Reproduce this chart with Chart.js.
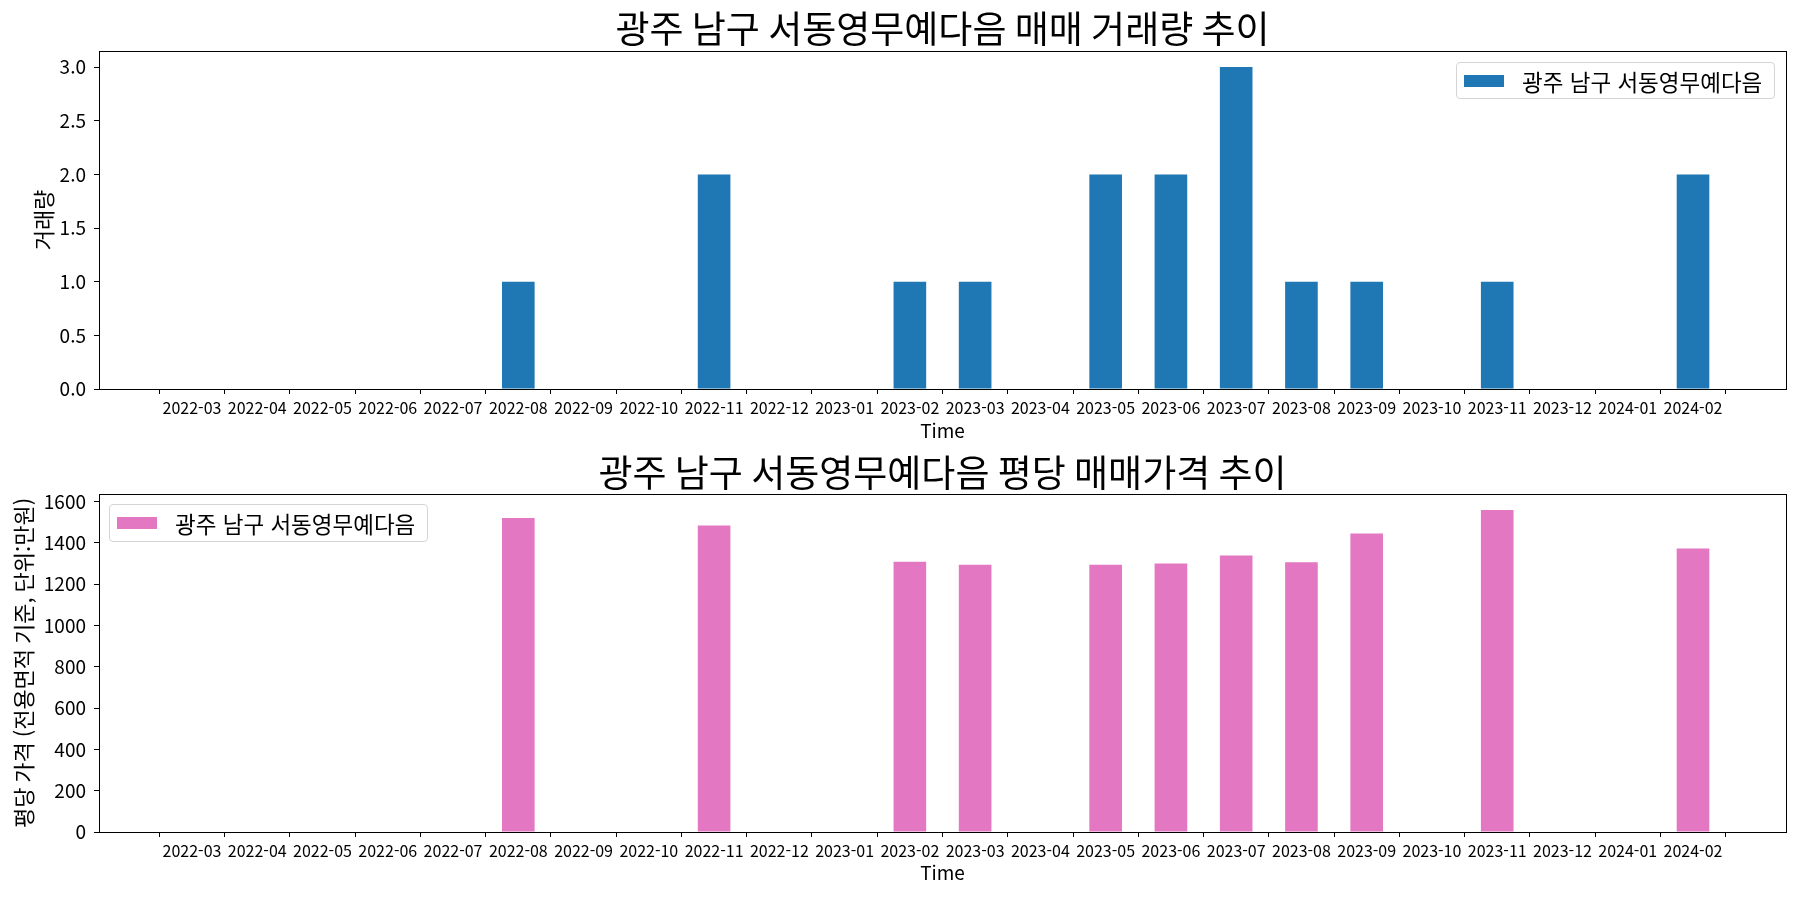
<!DOCTYPE html>
<html lang="ko">
<head>
    <meta charset="UTF-8">
    <title>광주 남구 서동영무예다음 매매 추이</title>
    <script src="https://cdn.jsdelivr.net/npm/chart.js"></script>
    <style>
        body { margin: 0; background: #fff; font-family: "Noto Sans CJK KR", sans-serif; }
        .wrap { position: absolute; left: 0; width: 1800px; height: 450px; }
        .legend {
            position: absolute; box-sizing: border-box; background: rgba(255,255,255,0.8);
            border: 1px solid #d5d5d5; border-radius: 4px; font-size: 22.5px; color: #000;
            display: flex; align-items: center; white-space: nowrap;
        }
        .legend .sw { width: 40px; height: 12px; margin: 0 18px 0 7px; }
    </style>
</head>
<body>
    <div class="wrap" style="top:0">
        <canvas id="countChart" width="1800" height="450"></canvas>
    </div>
    <div class="wrap" style="top:450px">
        <canvas id="priceChart" width="1800" height="450"></canvas>
    </div>
    <div class="legend" style="left:1456px; top:62px; width:319px; height:37px;">
        <span class="sw" style="background:#1f77b4"></span>광주 남구 서동영무예다음
    </div>
    <div class="legend" style="left:109px; top:504px; width:319px; height:38px;">
        <span class="sw" style="background:#e377c2"></span>광주 남구 서동영무예다음
    </div>

    <script>
        // months on the x axis
        const months = ['2022-03', '2022-04', '2022-05', '2022-06', '2022-07', '2022-08', '2022-09', '2022-10',
            '2022-11', '2022-12', '2023-01', '2023-02', '2023-03', '2023-04', '2023-05', '2023-06', '2023-07',
            '2023-08', '2023-09', '2023-10', '2023-11', '2023-12', '2024-01', '2024-02'];

        // number of trades per month
        const tradeCounts = [0, 0, 0, 0, 0, 1, 0, 0, 2, 0, 0, 1, 1, 0, 2, 2, 3, 1, 1, 0, 1, 0, 0, 2];

        // price per pyeong (만원)
        const pricePerPyeong = [0, 0, 0, 0, 0, 1520, 0, 0, 1483, 0, 0, 1308, 1293, 0, 1293, 1300, 1338, 1305, 1445, 0, 1558, 0, 0, 1372];

        // y tick labels
        const countTicks = [0, 0.5, 1.0, 1.5, 2.0, 2.5, 3.0];
        const priceTicks = [0, 200, 400, 600, 800, 1000, 1200, 1400, 1600];

        const FONT = '"Noto Sans CJK KR", "Noto Sans", sans-serif';

        // draws the full frame round the plot area, like matplotlib spines
        const frame = {
            id: 'frame',
            afterDraw(chart) {
                const a = chart.chartArea, c = chart.ctx;
                c.save();
                c.strokeStyle = '#000';
                c.lineWidth = 1;
                c.strokeRect(Math.round(a.left) + 0.5, Math.round(a.top) + 0.5,
                    Math.round(a.right - a.left), Math.round(a.bottom - a.top));
                c.restore();
            }
        };

        function makeChart(id, cfg) {
            const ctx = document.getElementById(id).getContext('2d');
            return new Chart(ctx, {
                type: 'bar',
                data: {
                    datasets: [{
                        label: '광주 남구 서동영무예다음',
                        data: cfg.values.map((v, i) => ({ x: i, y: v })),
                        backgroundColor: cfg.color,
                        borderWidth: 0,
                        barPercentage: 1.0,
                        categoryPercentage: 0.5
                    }]
                },
                options: {
                    responsive: false,
                    animation: false,
                    layout: { padding: { left: 0, right: 14, top: 0, bottom: 0 } },
                    scales: {
                        x: {
                            type: 'linear',
                            offset: false,
                            min: -1.425,
                            max: 24.425,
                            afterBuildTicks: s => { s.ticks = months.map((m, i) => ({ value: i })); },
                            afterFit: s => { s.height = cfg.xHeight; },
                            ticks: {
                                callback: v => months[v],
                                autoSkip: false, maxRotation: 0, minRotation: 0,
                                color: '#000', padding: 4,
                                font: { family: FONT, size: 16 }
                            },
                            grid: { drawOnChartArea: false, tickLength: 5, color: '#000' },
                            border: { color: '#000' },
                            title: {
                                display: true, text: 'Time', color: '#000',
                                font: { family: FONT, size: 19 },
                                padding: { top: 0, bottom: cfg.timePad }
                            }
                        },
                        y: {
                            min: 0,
                            max: cfg.yMax,
                            afterBuildTicks: s => { s.ticks = cfg.ticks.map(v => ({ value: v })); },
                            afterFit: s => { s.width = 99; },
                            ticks: {
                                callback: cfg.fmt,
                                color: '#000', padding: 8,
                                font: { family: FONT, size: 19 }
                            },
                            grid: { drawOnChartArea: false, tickLength: 5, color: '#000' },
                            border: { color: '#000' },
                            title: {
                                display: true, text: cfg.yTitle, color: '#000',
                                font: { family: FONT, size: 22 },
                                padding: { top: cfg.yTitlePad, bottom: 0 }
                            }
                        }
                    },
                    plugins: {
                        legend: { display: false },
                        tooltip: { enabled: false },
                        title: {
                            display: true, text: cfg.title, color: '#000', fullSize: false,
                            font: { family: FONT, size: 37, weight: 'normal', lineHeight: 1.0 },
                            padding: cfg.titlePad
                        }
                    }
                },
                plugins: [frame]
            });
        }

        makeChart('countChart', {
            values: tradeCounts,
            color: '#1f77b4',
            title: '광주 남구 서동영무예다음 매매 거래량 추이',
            titlePad: { top: 10, bottom: 4 },
            yTitle: '거래량',
            yTitlePad: 30,
            yMax: Math.max(...tradeCounts) * 1.05,
            ticks: countTicks,
            fmt: v => v.toFixed(1),
            xHeight: 61,
            timePad: 8
        });

        makeChart('priceChart', {
            values: pricePerPyeong,
            color: '#e377c2',
            title: '광주 남구 서동영무예다음 평당 매매가격 추이',
            titlePad: { top: 4, bottom: 3 },
            yTitle: '평당 가격 (전용면적 기준, 단위:만원)',
            yTitlePad: 10,
            yMax: Math.max(...pricePerPyeong) * 1.05,
            ticks: priceTicks,
            fmt: v => String(v),
            xHeight: 68,
            timePad: 16
        });
    </script>
</body>
</html>
